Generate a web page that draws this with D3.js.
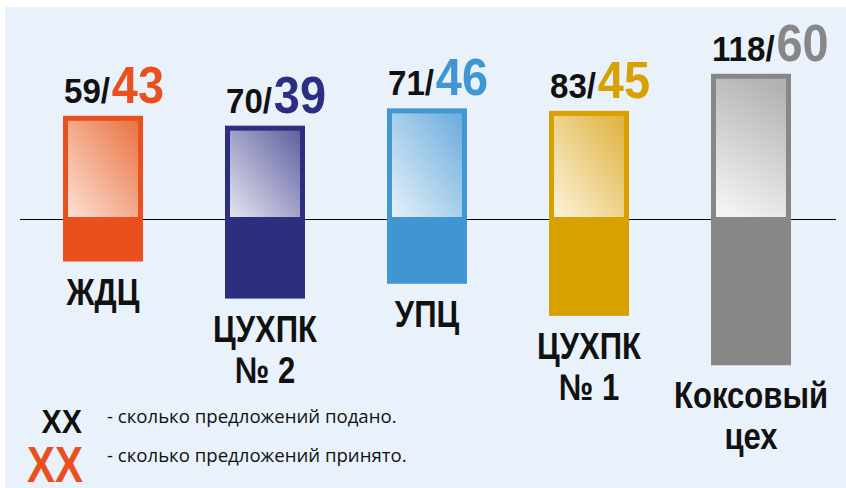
<!DOCTYPE html>
<html>
<head>
<meta charset="utf-8">
<script src="https://cdn.jsdelivr.net/npm/d3@7"></script>
<style>
  body { margin: 0; background: #fff; }
  .cond { font-family: "Liberation Sans", Arial, sans-serif; font-weight: bold; }
</style>
</head>
<body>
<div id="chart"></div>
<script>
// Data
const categories = ["ЖДЦ", "ЦУХПК|№ 2", "УПЦ", "ЦУХПК|№ 1", "Коксовый|цех"];
const submitted = [59, 70, 71, 83, 118];
const accepted = [43, 39, 46, 45, 60];
const legendLabels = ["- сколько предложений подано.", "- сколько предложений принято."];

const colors = ["#e9501e", "#2e2e80", "#3f96d0", "#d9a100", "#878787"];
const lightColors = ["#fde4d8", "#e8e8f3", "#e8f3fa", "#fdf5df", "#f3f3f3"];
const midColors = ["#e8703f", "#5c5c9e", "#67aadb", "#ddb03a", "#b2b2b2"];

const width = 846, height = 488;
const barWidth = 80;
const squeeze = 0.84;   // condensed look for bold labels

const svg = d3.select("#chart")
  .append("svg")
  .attr("width", width)
  .attr("height", height);

// light panel
svg.append("rect")
  .attr("x", 5).attr("y", 7)
  .attr("width", width - 5).attr("height", height - 7)
  .attr("fill", "#e9f1fb");

// scales
const x = d3.scalePoint()
  .domain(categories)
  .range([103, 751]);

const y = d3.scaleLinear()
  .domain([-60, 60])
  .range([222 + 60 * 2.47, 222 - 60 * 2.47]);

// gradients
const defs = svg.append("defs");
categories.forEach((c, i) => {
  const g = defs.append("linearGradient")
    .attr("id", "grad" + i)
    .attr("x1", i === 4 ? 0.35 : 0).attr("y1", 1)
    .attr("x2", i === 4 ? 0.65 : 1).attr("y2", 0);
  g.append("stop").attr("offset", "0%").attr("stop-color", lightColors[i]);
  g.append("stop").attr("offset", "100%").attr("stop-color", midColors[i]);
});

// base line
svg.append("line")
  .attr("x1", 20).attr("x2", 836)
  .attr("y1", y(0) - 2.5).attr("y2", y(0) - 2.5)
  .attr("stroke", "#000")
  .attr("stroke-width", 1.2);

const bars = svg.selectAll(".bar")
  .data(categories)
  .enter()
  .append("g")
  .attr("class", "bar");

// lower solid part (not accepted)
bars.append("rect")
  .attr("x", d => x(d) - barWidth / 2)
  .attr("y", y(0))
  .attr("width", barWidth)
  .attr("height", (d, i) => y(-(submitted[i] - accepted[i])) - y(0))
  .attr("fill", (d, i) => colors[i]);

// upper outlined part (accepted)
bars.append("rect")
  .attr("x", d => x(d) - barWidth / 2 + 2.5)
  .attr("y", (d, i) => y(accepted[i]) + 2.5)
  .attr("width", barWidth - 5)
  .attr("height", (d, i) => y(0) - y(accepted[i]) - 5)
  .attr("fill", (d, i) => `url(#grad${i})`)
  .attr("stroke", (d, i) => colors[i])
  .attr("stroke-width", 5);

// value labels
const vl = bars.append("g")
  .attr("transform", (d, i) => `translate(${x(d) - barWidth / 2 + 1},${y(accepted[i]) - 13}) scale(0.92,1)`)
  .append("text")
  .attr("class", "cond");
vl.append("tspan")
  .attr("font-size", 36)
  .attr("fill", "#111")
  .text((d, i) => submitted[i] + "/");
vl.append("tspan")
  .attr("font-size", 51)
  .attr("dx", 2)
  .attr("fill", (d, i) => colors[i])
  .text((d, i) => accepted[i]);

// category labels
const cl = bars.append("g")
  .attr("transform", (d, i) => `translate(${x(d)},${y(-(submitted[i] - accepted[i])) + 43}) scale(${squeeze},1)`)
  .append("text")
  .attr("class", "cond")
  .attr("text-anchor", "middle")
  .attr("font-size", 37)
  .attr("fill", "#111");
cl.selectAll("tspan")
  .data(d => d.split("|"))
  .enter()
  .append("tspan")
  .attr("x", 0)
  .attr("y", (d, j) => j * 41)
  .text(d => d);

// legend
svg.append("g")
  .attr("transform", "translate(82,433) scale(0.92,1)")
  .append("text")
  .attr("class", "cond")
  .attr("text-anchor", "end")
  .attr("font-size", 33)
  .attr("fill", "#111")
  .text("XX");
svg.append("g")
  .attr("transform", "translate(83,482) scale(0.84,1)")
  .append("text")
  .attr("class", "cond")
  .attr("text-anchor", "end")
  .attr("font-size", 50)
  .attr("fill", colors[0])
  .text("XX");

svg.selectAll(".legend")
  .data(legendLabels)
  .enter()
  .append("text")
  .attr("class", "legend")
  .attr("x", 107)
  .attr("y", (d, i) => 423 + i * 39)
  .attr("font-family", "'Open Sans', sans-serif")
  .attr("font-size", 18.6)
  .attr("fill", "#111")
  .text(d => d);
</script>
</body>
</html>
